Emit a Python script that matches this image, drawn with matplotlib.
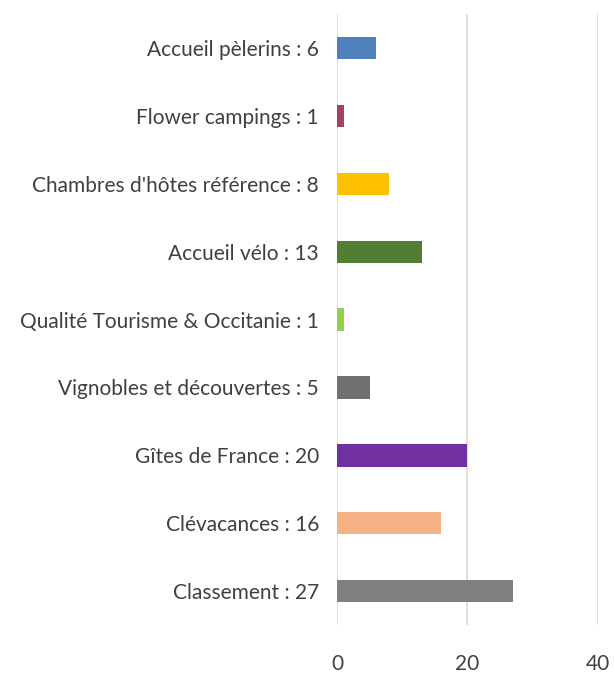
import matplotlib
matplotlib.use("Agg")
import matplotlib.pyplot as plt

categories = ["Classement : 27", "Clévacances : 16", "Gîtes de France : 20",
              "Vignobles et découvertes : 5", "Qualité Tourisme & Occitanie : 1",
              "Accueil vélo : 13", "Chambres d'hôtes référence : 8",
              "Flower campings : 1", "Accueil pèlerins : 6"]
values = [27, 16, 20, 5, 1, 13, 8, 1, 6]
colors = ["#808080", "#f4b183", "#7030a0", "#707070", "#92d050",
          "#507e32", "#ffc000", "#a5405e", "#4f81bd"]
xticks = [0, 20, 40]

plt.rcParams['font.family'] = ['Lato', 'DejaVu Sans']
fig = plt.figure(figsize=(6.15, 6.75), dpi=100)
ax = fig.add_axes([0.548, 0.074, 0.424, 0.905])
ax.barh(range(len(categories)), values, height=0.33, color=colors, zorder=3)
ax.set_xlim(0, 40)
ax.set_ylim(-0.5, len(categories) - 0.5)
ax.set_xticks(xticks)
ax.set_xticklabels([str(t) for t in xticks], fontsize=15, color="#404040")
ax.set_yticks(range(len(categories)))
ax.set_yticklabels(categories, fontsize=15, color="#404040")
ax.tick_params(axis='both', length=0)
ax.tick_params(axis='y', pad=13)
ax.tick_params(axis='x', pad=21)
ax.grid(axis='x', color="#d9d9d9", linewidth=1.2, zorder=0)
for s in ax.spines.values():
    s.set_visible(False)
fig.savefig("out.png", dpi=100)
